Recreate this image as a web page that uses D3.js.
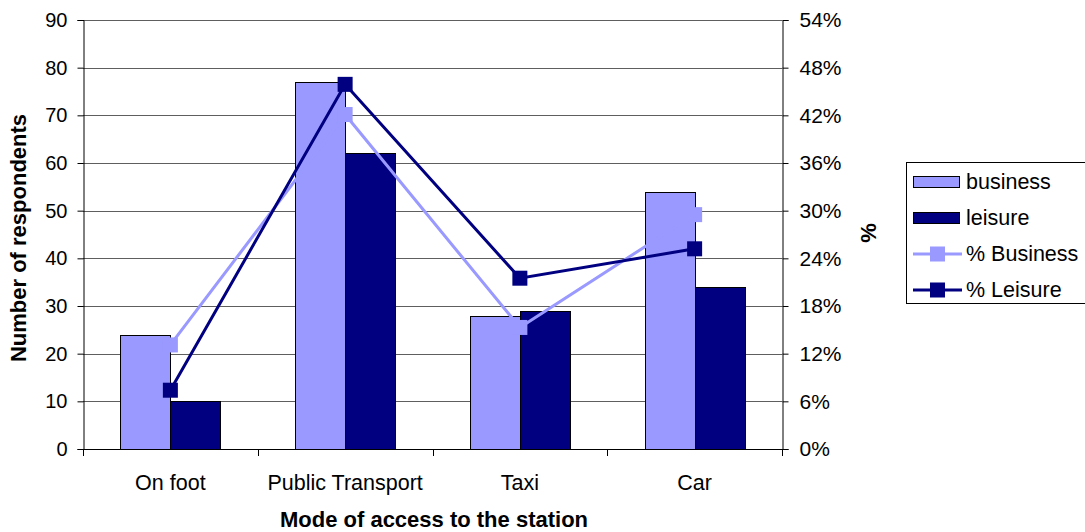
<!DOCTYPE html>
<html>
<head>
<meta charset="utf-8">
<script src="https://cdn.jsdelivr.net/npm/d3@7/dist/d3.min.js"></script>
<style>
  html, body { margin: 0; padding: 0; background: #fff; }
  svg { display: block; font-family: "Liberation Sans", Arial, sans-serif; }
</style>
</head>
<body>
<svg id="chart" width="1085" height="532"></svg>
<script>
// Mode of access to the station, by trip purpose
const categories = ["On foot", "Public Transport", "Taxi", "Car"];
const businessCounts = [24, 77, 28, 54];
const leisureCounts = [10, 62, 29, 34];
const businessPct = [13.1, 42.1, 15.3, 29.5];
const leisurePct = [7.4, 45.9, 21.5, 25.2];
const countTicks = [0, 10, 20, 30, 40, 50, 60, 70, 80, 90];
const pctTicks = [0, 6, 12, 18, 24, 30, 36, 42, 48, 54];

const barSeries = [
  { name: "business", values: businessCounts, color: "#9999FF" },
  { name: "leisure", values: leisureCounts, color: "#000080" }
];
const lineSeries = [
  { name: "% Business", values: businessPct, color: "#9999FF" },
  { name: "% Leisure", values: leisurePct, color: "#000080" }
];

const svg = d3.select("#chart");
const plot = { left: 83, right: 782, top: 20, bottom: 449 };
const TICK_FONT = 20;
const RIGHT_FONT = 21;
const LABEL_FONT = 21.5;
const TITLE_FONT = 22;

const x = d3.scaleBand().domain(categories).range([plot.left, plot.right]).padding(0);
const barW = 50;
const xSub = d3.scaleBand()
  .domain(barSeries.map(s => s.name))
  .range([x.bandwidth() / 2 - barW, x.bandwidth() / 2 + barW])
  .padding(0);
const yL = d3.scaleLinear().domain([0, 90]).range([plot.bottom, plot.top]);
const yR = d3.scaleLinear().domain([0, 54]).range([plot.bottom, plot.top]);

// horizontal gridlines
svg.append("g")
  .selectAll("line")
  .data(countTicks.filter(d => d > 0))
  .join("line")
  .attr("x1", plot.left).attr("x2", plot.right)
  .attr("y1", d => Math.round(yL(d)) + 0.5)
  .attr("y2", d => Math.round(yL(d)) + 0.5)
  .attr("stroke", "#5e5e5e").attr("stroke-width", 1);

// bars
barSeries.forEach(s => {
  svg.append("g")
    .selectAll("rect")
    .data(categories)
    .join("rect")
    .attr("x", (c) => Math.round(x(c) + xSub(s.name)) + 0.5)
    .attr("y", (c, i) => Math.round(yL(s.values[i])) + 0.5)
    .attr("width", xSub.bandwidth())
    .attr("height", (c, i) => Math.round(yL(0)) - Math.round(yL(s.values[i])))
    .attr("fill", s.color)
    .attr("stroke", "#000").attr("stroke-width", 1);
});

// left axis
const axisL = d3.axisLeft(yL).tickValues(countTicks).tickSize(6).tickPadding(10);
const gL = svg.append("g").attr("transform", `translate(${plot.left + 0.5},0)`).call(axisL);
gL.select(".domain").attr("stroke", "#000");
gL.selectAll(".tick line").attr("stroke", "#000");
gL.selectAll(".tick text").attr("font-size", TICK_FONT).attr("fill", "#000")
  .attr("font-family", "Liberation Sans, Arial, sans-serif");

// right axis
const axisR = d3.axisRight(yR).tickValues(pctTicks).tickSize(6).tickPadding(11)
  .tickFormat(d => d + "%");
const gR = svg.append("g").attr("transform", `translate(${plot.right + 0.5},0)`).call(axisR);
gR.select(".domain").attr("stroke", "#000");
gR.selectAll(".tick line").attr("stroke", "#000");
gR.selectAll(".tick text").attr("font-size", RIGHT_FONT).attr("fill", "#000")
  .attr("font-family", "Liberation Sans, Arial, sans-serif");

// bottom axis with ticks between categories
const gB = svg.append("g");
gB.append("line")
  .attr("x1", plot.left).attr("x2", plot.right)
  .attr("y1", plot.bottom + 0.5).attr("y2", plot.bottom + 0.5)
  .attr("stroke", "#000");
const boundaries = categories.map(c => x(c)).concat([x(categories[categories.length - 1]) + x.bandwidth()]);
gB.selectAll("line.tick")
  .data(boundaries)
  .join("line")
  .attr("class", "tick")
  .attr("x1", d => Math.round(d) + 0.5).attr("x2", d => Math.round(d) + 0.5)
  .attr("y1", plot.bottom).attr("y2", plot.bottom + 7)
  .attr("stroke", "#000");
gB.selectAll("text")
  .data(categories)
  .join("text")
  .attr("x", c => x(c) + x.bandwidth() / 2)
  .attr("y", 490)
  .attr("text-anchor", "middle")
  .attr("font-size", LABEL_FONT)
  .text(c => c);

// percentage lines with square markers
const line = d3.line()
  .x((d, i) => x(categories[i]) + x.bandwidth() / 2)
  .y(d => yR(d));
const MS = 15;
lineSeries.forEach(s => {
  const g = svg.append("g");
  g.append("path")
    .datum(s.values)
    .attr("d", line)
    .attr("fill", "none")
    .attr("stroke", s.color)
    .attr("stroke-width", 3);
  g.selectAll("rect")
    .data(s.values)
    .join("rect")
    .attr("x", (d, i) => x(categories[i]) + x.bandwidth() / 2 - MS / 2)
    .attr("y", d => yR(d) - MS / 2)
    .attr("width", MS).attr("height", MS)
    .attr("fill", s.color);
});

// axis titles
svg.append("text")
  .attr("transform", "translate(26,238) rotate(-90)")
  .attr("text-anchor", "middle")
  .attr("font-size", TITLE_FONT).attr("font-weight", "bold")
  .text("Number of respondents");
svg.append("text")
  .attr("transform", "translate(876,233) rotate(-90)")
  .attr("text-anchor", "middle")
  .attr("font-size", TITLE_FONT).attr("font-weight", "bold")
  .text("%");
svg.append("text")
  .attr("x", 434)
  .attr("y", 527)
  .attr("text-anchor", "middle")
  .attr("font-size", TITLE_FONT).attr("font-weight", "bold")
  .text("Mode of access to the station");

// legend
const legend = svg.append("g");
legend.append("rect")
  .attr("x", 906.5).attr("y", 162.5)
  .attr("width", 200).attr("height", 141)
  .attr("fill", "#fff").attr("stroke", "#000");
const rowY = [182, 218, 254, 290];
barSeries.forEach((s, i) => {
  legend.append("rect")
    .attr("x", 913.5).attr("y", rowY[i] - 5.5)
    .attr("width", 46).attr("height", 11)
    .attr("fill", s.color).attr("stroke", "#000");
  legend.append("text")
    .attr("x", 966).attr("y", rowY[i] + 7)
    .attr("font-size", LABEL_FONT).text(s.name);
});
lineSeries.forEach((s, j) => {
  const yy = rowY[j + 2];
  legend.append("line")
    .attr("x1", 913).attr("x2", 962)
    .attr("y1", yy).attr("y2", yy)
    .attr("stroke", s.color).attr("stroke-width", 3);
  legend.append("rect")
    .attr("x", 937.5 - MS / 2).attr("y", yy - MS / 2)
    .attr("width", MS).attr("height", MS)
    .attr("fill", s.color);
  legend.append("text")
    .attr("x", 966).attr("y", yy + 7)
    .attr("font-size", LABEL_FONT).text(s.name);
});
</script>
</body>
</html>
